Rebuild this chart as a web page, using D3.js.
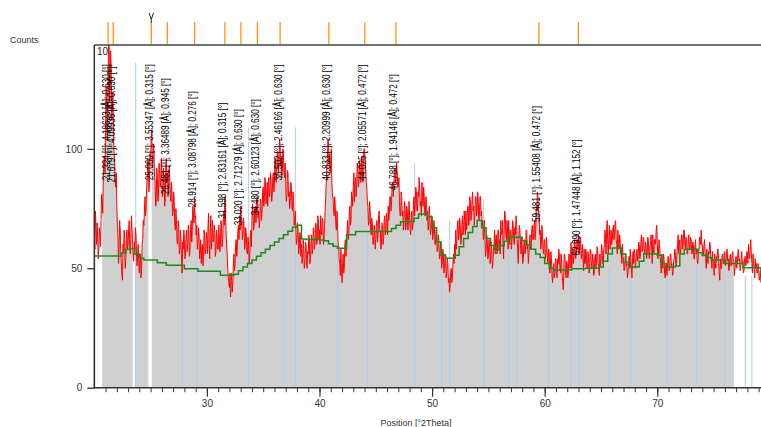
<!DOCTYPE html>
<html>
<head>
<meta charset="utf-8">
<script src="https://cdn.jsdelivr.net/npm/d3@7/dist/d3.min.js"></script>
<style>
  html, body { margin: 0; padding: 0; background: #fff; }
  svg { display: block; }
  text { font-family: "Liberation Sans", Arial, sans-serif; fill: #333; }
</style>
</head>
<body>
<svg id="chart" width="761" height="427"></svg>
<script>
// Measured scan: counts every 0.05 °2Theta starting at 20.0 (one row per degree)
const scanStart = 20.0;
const scanStep = 0.05;
const counts = [
  66,58,74,67,60,69,63,54,58,67,64,59,70,81,79,73,88,95,97,90,
  108,126,122,104,114,138,160,120,128,141,133,112,118,124,106,99,96,88,84,90,
  76,68,64,52,58,70,66,57,52,47,45,60,57,66,62,50,54,63,66,58,
  60,66,70,58,56,64,72,66,62,55,53,61,58,67,64,55,51,57,60,52,
  48,54,56,46,50,60,62,70,68,74,80,72,76,84,88,96,92,82,86,98,
  96,104,108,92,94,102,99,88,86,76,78,92,88,78,80,94,92,84,86,96,
  90,80,82,92,88,76,79,94,96,86,90,80,84,93,88,81,78,86,82,72,
  74,82,78,68,66,75,70,61,60,70,67,56,58,66,62,53,48,61,58,66,
  62,54,56,64,66,57,60,68,64,55,58,66,70,61,66,76,74,69,80,71,
  72,64,68,58,60,67,64,54,56,62,52,58,60,51,55,66,63,56,58,65,
  62,56,68,73,60,54,66,72,58,63,70,61,62,68,65,55,57,66,64,58,
  58,68,64,57,60,70,67,59,62,70,74,68,80,72,66,60,56,50,46,44,
  42,48,38,45,48,40,44,52,56,49,52,60,62,55,58,66,68,62,72,66,
  76,68,70,62,64,71,68,58,60,67,64,57,56,63,60,52,54,62,66,59,
  70,77,74,66,68,75,76,69,72,80,80,71,74,67,70,79,78,70,74,82,
  84,76,78,88,86,77,80,86,76,84,88,80,82,90,86,78,80,88,90,82,
  86,96,94,86,90,99,98,90,94,104,102,93,96,88,92,100,97,90,88,94,
  86,78,80,91,90,80,82,75,78,86,84,76,74,82,78,68,70,74,66,60,
  62,69,66,56,58,65,64,55,60,52,54,62,58,50,52,61,60,54,50,57,
  56,64,62,52,54,61,64,56,58,67,66,58,60,69,68,60,62,72,70,62,
  66,60,72,66,64,71,70,60,62,68,74,80,86,92,96,104,102,94,98,90,
  94,100,86,80,80,74,72,80,76,68,66,74,70,60,60,54,52,47,58,50,
  44,52,56,48,50,60,62,55,58,66,70,62,64,74,76,68,70,82,80,76,
  84,90,78,86,88,80,84,94,92,84,86,95,94,86,88,97,92,86,96,100,
  100,94,92,86,84,78,76,68,70,78,74,66,64,71,68,60,60,68,66,58,
  62,68,70,61,64,72,74,66,66,58,60,69,68,60,63,70,72,64,66,73,
  70,64,76,70,72,80,80,74,78,86,86,80,84,90,92,86,88,94,90,84,
  84,88,78,72,72,82,80,72,74,66,70,78,76,66,68,76,74,66,70,78,
  72,66,64,72,74,66,68,78,80,72,76,84,82,74,74,82,80,88,84,76,
  78,72,86,80,76,84,80,72,72,80,78,70,74,66,68,76,72,64,66,72,
  70,62,64,70,68,60,60,66,65,57,58,64,62,54,55,61,58,50,52,58,
  56,48,50,56,54,46,48,54,52,44,46,40,42,48,50,44,46,52,56,52,
  60,54,66,58,62,68,70,62,64,71,68,60,62,68,72,64,66,74,70,64,
  74,66,68,76,76,68,70,80,78,70,72,79,82,74,76,68,72,80,80,72,
  74,82,78,70,72,80,80,72,74,68,70,62,66,70,62,55,58,64,62,54,
  56,62,60,52,54,61,58,50,52,58,60,66,56,62,64,56,58,66,66,58,
  62,56,70,64,64,70,60,54,68,74,72,64,62,70,66,58,70,64,60,66,
  66,58,62,70,68,62,60,67,64,72,70,62,58,52,62,68,66,60,56,63,
  60,52,54,60,62,56,58,66,66,58,60,52,56,62,64,58,60,66,68,62,
  62,68,70,62,66,76,74,82,80,74,72,64,66,58,60,68,64,58,56,62,
  62,54,56,63,60,53,52,58,56,48,50,57,54,47,44,50,52,46,48,54,
  54,48,46,54,52,58,56,50,48,56,54,47,44,41,50,56,55,48,46,53,
  52,46,48,56,54,50,56,61,50,55,58,52,55,62,60,54,56,60,62,58,
  64,56,58,63,62,54,56,60,54,49,58,52,52,58,56,50,50,57,55,48,
  52,58,57,50,50,56,54,47,48,54,56,50,53,59,58,52,51,47,56,51,
  54,60,58,52,52,58,60,66,62,56,66,70,60,56,64,68,58,62,66,60,
  62,66,68,62,64,69,70,62,60,56,66,60,58,64,62,56,56,52,60,55,
  54,49,50,56,56,51,52,46,48,53,55,50,58,54,50,46,54,57,52,58,
  56,50,52,57,58,53,54,61,60,54,56,62,64,57,58,63,62,56,56,61,
  60,54,56,63,62,56,54,59,60,64,58,52,64,58,56,62,62,60,66,68,
  60,54,56,62,60,55,52,48,56,52,50,56,54,48,46,51,52,47,50,55,
  54,49,50,56,56,51,52,47,48,53,54,58,56,51,52,57,60,64,56,60,
  62,56,58,64,64,58,60,66,66,60,58,63,62,56,56,62,64,59,58,63,
  62,57,56,61,60,54,54,60,62,56,58,53,52,57,58,63,62,60,66,60,
  60,55,56,60,62,57,54,50,58,54,52,57,56,61,60,54,54,50,57,53,
  52,47,56,52,50,55,54,58,58,52,48,45,54,50,50,55,56,52,52,57,
  56,51,52,57,58,53,54,49,50,55,56,51,52,56,57,53,53,47,50,54,
  55,50,52,56,58,53,54,49,50,54,57,52,53,48,49,54,55,51,52,57,
  56,52,60,55,54,58,62,56,52,48,56,52,50,46,54,50,52,48,48,52,
  50,45,46,49,44
];

// Fitted background, one level every 0.4 °2Theta from 20.0
const bgStart = 20.0;
const bgStep = 0.4;
const background = [
  55.1, 55.1, 55.1, 55.1, 55.1, 55.1, 56.5, 58.0, 58.3, 56.0,
  54.2, 53.5, 53.5, 53.5, 52.3, 52.3, 51.3, 51.3, 51.3, 51.3,
  49.8, 49.8, 49.8, 48.8, 48.8, 48.8, 48.8, 48.8, 47.1, 47.1,
  47.1, 47.5, 49.0, 50.5, 52.0, 53.5, 55.0, 56.5, 58.0, 59.5,
  61.0, 62.5, 64.0, 65.5, 67.2, 68.0, 62.3, 62.1, 62.1, 62.1,
  61.8, 61.5, 60.3, 59.2, 58.4, 58.4, 64.0, 64.0, 65.4, 65.4,
  65.4, 65.4, 65.4, 65.4, 65.4, 65.4, 66.7, 68.0, 69.5, 69.5,
  69.5, 71.0, 72.7, 72.7, 71.5, 67.0, 61.0, 55.5, 54.2, 54.2,
  55.5, 59.0, 62.5, 65.0, 67.5, 70.0, 67.0, 62.5, 59.5, 57.7,
  59.5, 61.3, 63.0, 63.0, 63.0, 61.5, 59.8, 58.0, 56.0, 54.5,
  52.0, 50.0, 49.3, 49.3, 49.3, 49.3, 49.8, 49.8, 49.8, 50.0,
  50.0, 50.0, 50.5, 53.0, 56.0, 58.5, 58.5, 56.0, 52.5, 50.5,
  50.5, 53.0, 56.0, 56.0, 56.0, 55.5, 52.0, 50.5, 50.5, 51.0,
  56.0, 58.0, 58.0, 58.0, 56.5, 55.5, 54.5, 53.5, 53.5, 53.5,
  52.0, 52.0, 52.0, 52.0, 50.2, 50.2, 50.2, 50.2, 47.7
];

// Stretches of the scan shown as a filled profile
const filledRanges = [[20.0, 20.1], [20.7, 23.4], [23.6, 24.8], [25.1, 76.8]];

// Reference pattern lines (position, relative height in counts)
const refPositions = [23.68, 27.82, 29.09, 33.71, 36.87, 37.85, 41.62, 44.28, 48.45, 50.85,
                      51.56, 54.58, 56.80, 57.51, 60.34, 62.36, 63.07, 65.74, 67.66, 70.89,
                      73.46, 75.98, 77.81, 78.40];
const refHeights   = [136, 54, 54, 109, 66, 109, 58, 65, 94, 55,
                      70, 79, 62, 62, 50, 50, 56, 50, 47, 47,
                      52, 50, 47, 47];

// Peak list: position [°2Theta], d-spacing [Å], FWHM [°2Theta], label level [counts]
const peakPos   = [21.224, 21.679, 25.060, 26.481, 28.914, 31.598, 33.020, 34.480, 36.502,
                   40.833, 44.025, 46.788, 59.481, 62.990];
const peakD     = ["4.18623", "4.09936", "3.55347", "3.36489", "3.08798", "2.83161", "2.71279",
                   "2.60123", "2.46166", "2.20999", "2.05571", "1.94146", "1.55408", "1.47448"];
const peakFwhm  = ["0.630", "0.630", "0.315", "0.945", "0.276", "0.315", "0.630", "0.630",
                   "0.630", "0.630", "0.472", "0.472", "0.472", "1.152"];
const peakLevel = [86.9, 85.9, 86.9, 81.0, 75.6, 70.8, 68.0, 72.2, 86.8, 86.8, 86.8, 82.7, 69.4, 55.4];

const yTicks = [0, 50, 100];
const xMajorTicks = [30, 40, 50, 60, 70];
const xMinorTicks = d3.range(21, 80, 1);

// ---- layout ----
const svg = d3.select("#chart");
const plot = { left: 94.3, right: 761, top: 45, bottom: 387.7 };

const x = d3.scaleLinear().domain([20, 79.2]).range([plot.left, plot.left + 59.2 * 11.26]);
const y = d3.scaleLinear().domain([0, 143.5]).range([plot.bottom, plot.top]);

svg.append("defs").append("clipPath").attr("id", "plotClip")
  .append("rect")
  .attr("x", plot.left).attr("y", plot.top)
  .attr("width", plot.right - plot.left).attr("height", plot.bottom - plot.top);

const scan = counts.map((c, i) => ({ t: scanStart + i * scanStep, c }));
const bg = background.map((b, i) => ({ t: bgStart + i * bgStep, b }));

const g = svg.append("g").attr("clip-path", "url(#plotClip)");

// filled profile under the scan
filledRanges.forEach(([a, b]) => {
  const seg = scan.filter(d => d.t >= a - 1e-6 && d.t <= b + 1e-6);
  g.append("path")
    .datum(seg)
    .attr("fill", "#d0d0d0")
    .attr("d", d3.area().x(d => x(d.t)).y0(y(0)).y1(d => y(d.c)));
});

// reference pattern lines
g.selectAll("line.ref")
  .data(refPositions.map((p, i) => ({ p, h: refHeights[i] })))
  .join("line")
  .attr("class", "ref")
  .attr("x1", d => x(d.p)).attr("x2", d => x(d.p))
  .attr("y1", y(0)).attr("y2", d => y(d.h))
  .attr("stroke", "#aecbea")
  .attr("stroke-width", 1);

// measured scan
g.append("path")
  .datum(scan)
  .attr("fill", "none")
  .attr("stroke", "#ff0000")
  .attr("stroke-width", 1)
  .attr("stroke-linejoin", "round")
  .attr("d", d3.line().x(d => x(d.t)).y(d => y(d.c)));

// background
g.append("path")
  .datum(bg)
  .attr("fill", "none")
  .attr("stroke", "#1c8a1c")
  .attr("stroke-width", 1.5)
  .attr("d", d3.line().curve(d3.curveStepAfter).x(d => x(d.t)).y(d => y(d.b)));

// peak labels
svg.append("g").selectAll("text.peak")
  .data(peakPos.map((p, i) => ({ p, d: peakD[i], w: peakFwhm[i], lv: peakLevel[i] })))
  .join("text")
  .attr("class", "peak")
  .attr("transform", d => `translate(${x(d.p) + 1.5},${y(d.lv)}) rotate(-90)`)
  .attr("font-size", 11)
  .attr("textLength", 116)
  .attr("lengthAdjust", "spacingAndGlyphs")
  .style("font-family", '"Liberation Sans Narrow", "Liberation Sans", Arial, sans-serif')
  .style("fill", "#000")
  .text(d => `${d.p.toFixed(3)} [°]; ${d.d} [Å]; ${d.w} [°]`);

// peak position sticks above the plot
svg.append("g").selectAll("line.stick")
  .data(peakPos)
  .join("line")
  .attr("class", "stick")
  .attr("x1", d => x(d)).attr("x2", d => x(d))
  .attr("y1", 22).attr("y2", 44.5)
  .attr("stroke", "#ff8c00")
  .attr("stroke-width", 1.2);

// selected-peak marker
const sel = x(peakPos[2]);
svg.append("path")
  .attr("d", `M${sel - 2.2},13 L${sel},19.5 L${sel + 2.2},13 M${sel},19.5 L${sel},23`)
  .attr("fill", "none")
  .attr("stroke", "#222")
  .attr("stroke-width", 1);

// axes
const axisColor = "#333";
const yAxis = svg.append("g")
  .attr("transform", `translate(${plot.left},0)`)
  .call(d3.axisLeft(y).tickValues(yTicks).tickSize(7).tickSizeOuter(0).tickPadding(5));
yAxis.select(".domain").remove();
yAxis.selectAll(".tick line").attr("stroke", axisColor).attr("stroke-width", 1.3);
yAxis.selectAll(".tick text").attr("font-size", 10).style("fill", "#333")
  .style("font-family", '"Liberation Sans", Arial, sans-serif');

const xMinor = svg.append("g")
  .attr("transform", `translate(0,${plot.bottom})`)
  .call(d3.axisBottom(x).tickValues(xMinorTicks).tickSize(4.5).tickSizeOuter(0).tickFormat(""));
xMinor.select(".domain").remove();
xMinor.selectAll(".tick line").attr("stroke", axisColor).attr("stroke-width", 1);

const xAxis = svg.append("g")
  .attr("transform", `translate(0,${plot.bottom})`)
  .call(d3.axisBottom(x).tickValues(xMajorTicks).tickSize(9).tickSizeOuter(0).tickPadding(3)
    .tickFormat(d3.format("d")));
xAxis.select(".domain").remove();
xAxis.selectAll(".tick line").attr("stroke", axisColor).attr("stroke-width", 1.2);
xAxis.selectAll(".tick text").attr("font-size", 10).style("fill", "#333")
  .style("font-family", '"Liberation Sans", Arial, sans-serif');

// frame lines
svg.append("line")
  .attr("x1", plot.left).attr("x2", plot.right)
  .attr("y1", plot.top).attr("y2", plot.top)
  .attr("stroke", "#444").attr("stroke-width", 1.6);
svg.append("line")
  .attr("x1", plot.left).attr("x2", plot.left)
  .attr("y1", plot.top).attr("y2", plot.bottom + 0.8)
  .attr("stroke", axisColor).attr("stroke-width", 1.5);
svg.append("line")
  .attr("x1", plot.left - 0.7).attr("x2", plot.right)
  .attr("y1", plot.bottom).attr("y2", plot.bottom)
  .attr("stroke", axisColor).attr("stroke-width", 1.6);

// titles
svg.append("text").attr("x", 10).attr("y", 42.5).attr("font-size", 9).text("Counts");
svg.append("text").attr("x", 97).attr("y", 55).attr("font-size", 10).style("fill", "#222").text("10");
svg.append("text").attr("x", 416).attr("y", 425.5).attr("font-size", 9)
  .attr("text-anchor", "middle").text("Position [°2Theta]");
</script>
</body>
</html>
